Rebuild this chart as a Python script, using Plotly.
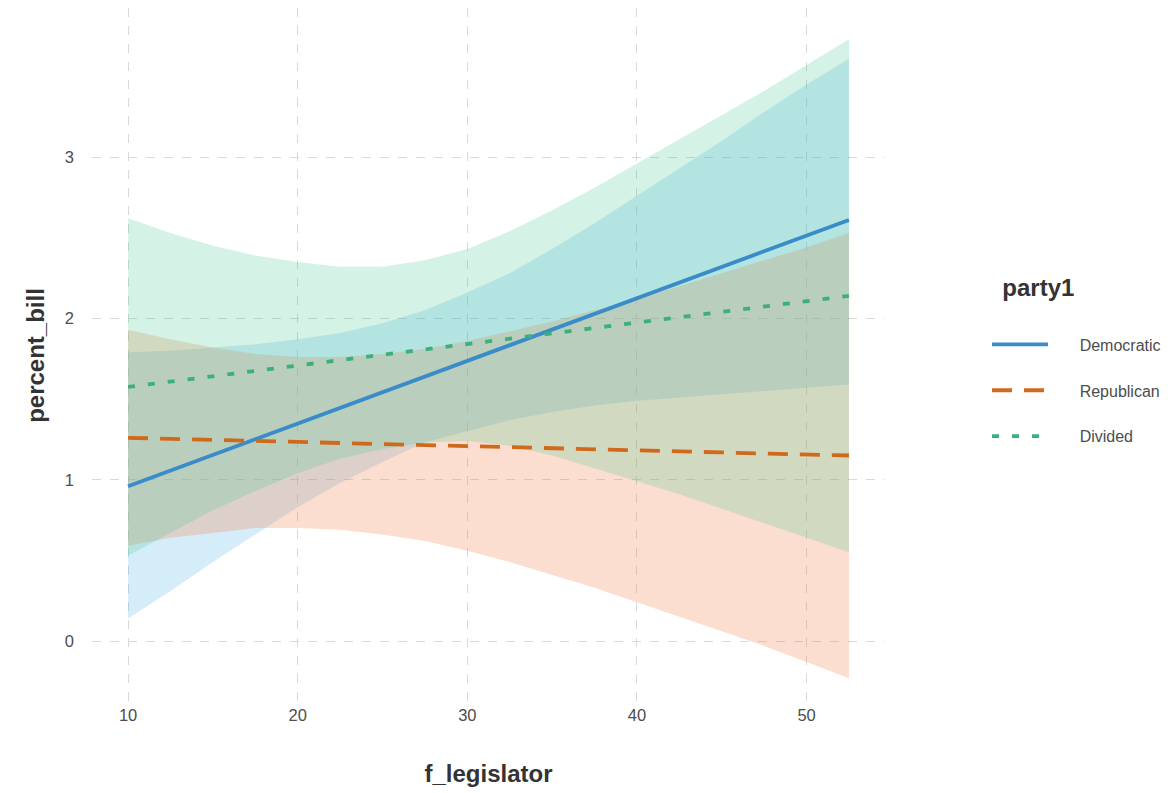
import plotly.graph_objects as go

x_vals = [10, 12.5, 15, 17.5, 20, 22.5, 25, 27.5, 30, 32.5, 35, 37.5, 40, 42.5, 45, 47.5, 50, 52.5]

dem_fit = [0.96, 1.057, 1.154, 1.251, 1.348, 1.445, 1.542, 1.639, 1.736, 1.833, 1.93, 2.028, 2.125, 2.222, 2.319, 2.416, 2.513, 2.61]
dem_upper = [1.79, 1.80, 1.82, 1.84, 1.87, 1.91, 1.97, 2.05, 2.16, 2.28, 2.43, 2.59, 2.76, 2.93, 3.10, 3.28, 3.45, 3.61]
dem_lower = [0.14, 0.31, 0.49, 0.66, 0.83, 0.98, 1.11, 1.23, 1.30, 1.37, 1.42, 1.46, 1.49, 1.51, 1.53, 1.55, 1.57, 1.59]

rep_fit = [1.26, 1.254, 1.247, 1.241, 1.234, 1.228, 1.221, 1.215, 1.208, 1.202, 1.195, 1.189, 1.182, 1.176, 1.169, 1.163, 1.157, 1.15]
rep_upper = [1.93, 1.87, 1.82, 1.78, 1.76, 1.76, 1.78, 1.81, 1.86, 1.92, 1.98, 2.05, 2.12, 2.20, 2.28, 2.36, 2.44, 2.53]
rep_lower = [0.59, 0.64, 0.67, 0.70, 0.70, 0.69, 0.66, 0.62, 0.56, 0.49, 0.41, 0.33, 0.24, 0.15, 0.06, -0.03, -0.13, -0.23]

div_fit = [1.575, 1.608, 1.641, 1.675, 1.708, 1.741, 1.774, 1.808, 1.841, 1.874, 1.907, 1.941, 1.974, 2.007, 2.04, 2.074, 2.107, 2.14]
div_upper = [2.62, 2.53, 2.45, 2.39, 2.35, 2.32, 2.32, 2.36, 2.43, 2.54, 2.67, 2.81, 2.96, 3.11, 3.26, 3.41, 3.57, 3.73]
div_lower = [0.53, 0.67, 0.81, 0.93, 1.04, 1.13, 1.19, 1.23, 1.24, 1.21, 1.15, 1.07, 0.99, 0.91, 0.82, 0.73, 0.64, 0.55]

series = [
    ("Democratic", dem_fit, dem_upper, dem_lower, "#3a8cc8", "rgba(86,180,233,0.25)", "solid"),
    ("Republican", rep_fit, rep_upper, rep_lower, "#cf6a1c", "rgba(245,135,85,0.28)", "20px,12px"),
    ("Divided", div_fit, div_upper, div_lower, "#3cb07c", "rgba(60,200,140,0.22)", "7px,13px"),
]

x_ticks = [10, 20, 30, 40, 50]
y_ticks = [0, 1, 2, 3]

fig = go.Figure()

for name, fit, up, lo, lc, fc, dash in series:
    fig.add_trace(go.Scatter(
        x=x_vals + x_vals[::-1], y=up + lo[::-1],
        fill="toself", fillcolor=fc, line=dict(width=0),
        mode="lines", showlegend=False, hoverinfo="skip"))

pad = "\u00a0" * 6
for i, (name, fit, up, lo, lc, fc, dash) in enumerate(series):
    fig.add_trace(go.Scatter(
        x=x_vals, y=fit, mode="lines", name=pad + name, legendgroup=name,
        line=dict(color=lc, width=3.8, dash=dash)))

font_family = "Liberation Sans, Arial, sans-serif"

fig.update_layout(
    width=1165, height=785,
    margin=dict(l=84, r=288, t=0, b=90, autoexpand=False),
    paper_bgcolor="white", plot_bgcolor="white",
    font=dict(family=font_family, color="#4d4d4d", size=16),
    legend=dict(
        x=1.1286, y=0.630, xanchor="left", yanchor="top",
        title=dict(text="\u00a0\u00a0<b>party1</b><br>\u00a0", font=dict(size=24, color="#333333"), side="top"),
        font=dict(size=16, color="#4d4d4d"),
        tracegroupgap=22, itemwidth=56,
        bgcolor="rgba(0,0,0,0)"),
    xaxis=dict(
        range=[7.875, 54.625], tickvals=x_ticks, ticktext=[str(v) for v in x_ticks],
        showgrid=True, gridcolor="#d9d9d9", griddash="dash", gridwidth=1.2,
        zeroline=False, showline=False, ticks="", automargin=False,
        tickfont=dict(size=16.5, color="#4d4d4d"), ticklabelstandoff=0,
        title=dict(text="<b>f_legislator</b>", font=dict(size=24, color="#333333"), standoff=42)),
    yaxis=dict(
        range=[-0.384, 3.924], tickvals=y_ticks, ticktext=[str(v) for v in y_ticks],
        showgrid=True, gridcolor="#d9d9d9", griddash="dash", gridwidth=1.2,
        zeroline=False, showline=False, ticks="", automargin=False,
        tickfont=dict(size=16.5, color="#4d4d4d"), ticklabelstandoff=17,
        title=dict(text="<b>percent_bill</b>", font=dict(size=24, color="#333333"), standoff=13)),
)

fig.write_html("out.html")
